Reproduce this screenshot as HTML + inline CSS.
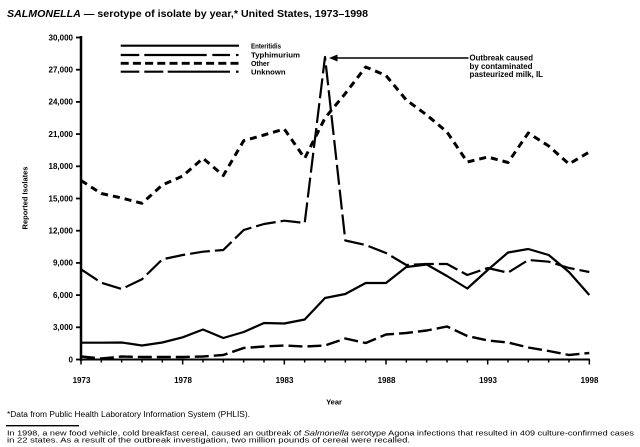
<!DOCTYPE html>
<html><head><meta charset="utf-8"><style>
html,body{margin:0;padding:0;background:#fff;}
svg{display:block;}
text{font-family:"Liberation Sans",Arial,sans-serif;fill:#000;}
</style></head><body>
<svg width="640" height="447" viewBox="0 0 640 447" xmlns="http://www.w3.org/2000/svg">
<!-- Title -->
<text x="7" y="17" font-size="10.5" font-weight="bold" textLength="361" lengthAdjust="spacingAndGlyphs"><tspan font-style="italic">SALMONELLA</tspan> — serotype of isolate by year,* United States, 1973–1998</text>

<!-- Y axis -->
<line x1="81" y1="36" x2="81" y2="361" stroke="#000" stroke-width="2.5"/>
<g stroke="#000" stroke-width="1.8">
<line x1="76" y1="359.5" x2="81" y2="359.5"/>
<line x1="76" y1="327.3" x2="81" y2="327.3"/>
<line x1="76" y1="295.1" x2="81" y2="295.1"/>
<line x1="76" y1="262.9" x2="81" y2="262.9"/>
<line x1="76" y1="230.7" x2="81" y2="230.7"/>
<line x1="76" y1="198.5" x2="81" y2="198.5"/>
<line x1="76" y1="166.3" x2="81" y2="166.3"/>
<line x1="76" y1="134.1" x2="81" y2="134.1"/>
<line x1="76" y1="101.9" x2="81" y2="101.9"/>
<line x1="76" y1="69.7" x2="81" y2="69.7"/>
<line x1="76" y1="37.5" x2="81" y2="37.5"/>
</g>
<g font-size="8" font-weight="bold" text-anchor="end">
<text x="73" y="362.3">0</text>
<text x="73" y="330.1">3,000</text>
<text x="73" y="297.9">6,000</text>
<text x="73" y="265.7">9,000</text>
<text x="73" y="233.5">12,000</text>
<text x="73" y="201.3">15,000</text>
<text x="73" y="169.1">18,000</text>
<text x="73" y="136.9">21,000</text>
<text x="73" y="104.7">24,000</text>
<text x="73" y="72.5">27,000</text>
<text x="73" y="40.3">30,000</text>
</g>
<text transform="translate(27.5,198) rotate(-90)" font-size="7.5" font-weight="bold" text-anchor="middle">Reported Isolates</text>

<!-- X axis -->
<line x1="80" y1="359.5" x2="590" y2="359.5" stroke="#000" stroke-width="2"/>
<g stroke="#000" stroke-width="1.5">
<line x1="81" y1="359.5" x2="81" y2="364.5"/>
<line x1="101.33" y1="359.5" x2="101.33" y2="362.5"/>
<line x1="121.66" y1="359.5" x2="121.66" y2="362.5"/>
<line x1="142" y1="359.5" x2="142" y2="362.5"/>
<line x1="162.33" y1="359.5" x2="162.33" y2="362.5"/>
<line x1="182.66" y1="359.5" x2="182.66" y2="364.5"/>
<line x1="203" y1="359.5" x2="203" y2="362.5"/>
<line x1="223.33" y1="359.5" x2="223.33" y2="362.5"/>
<line x1="243.66" y1="359.5" x2="243.66" y2="362.5"/>
<line x1="264" y1="359.5" x2="264" y2="362.5"/>
<line x1="284.33" y1="359.5" x2="284.33" y2="364.5"/>
<line x1="304.66" y1="359.5" x2="304.66" y2="362.5"/>
<line x1="325" y1="359.5" x2="325" y2="362.5"/>
<line x1="345.33" y1="359.5" x2="345.33" y2="362.5"/>
<line x1="365.66" y1="359.5" x2="365.66" y2="362.5"/>
<line x1="386" y1="359.5" x2="386" y2="364.5"/>
<line x1="406.33" y1="359.5" x2="406.33" y2="362.5"/>
<line x1="426.66" y1="359.5" x2="426.66" y2="362.5"/>
<line x1="447" y1="359.5" x2="447" y2="362.5"/>
<line x1="467.33" y1="359.5" x2="467.33" y2="362.5"/>
<line x1="487.66" y1="359.5" x2="487.66" y2="364.5"/>
<line x1="508" y1="359.5" x2="508" y2="362.5"/>
<line x1="528.33" y1="359.5" x2="528.33" y2="362.5"/>
<line x1="548.66" y1="359.5" x2="548.66" y2="362.5"/>
<line x1="569" y1="359.5" x2="569" y2="362.5"/>
<line x1="589.33" y1="359.5" x2="589.33" y2="364.5"/>
</g>
<g font-size="8" font-weight="bold" text-anchor="middle">
<text x="81.5" y="383">1973</text>
<text x="183" y="383">1978</text>
<text x="284.5" y="383">1983</text>
<text x="386.5" y="383">1988</text>
<text x="488" y="383">1993</text>
<text x="589.5" y="383">1998</text>
</g>
<text x="334" y="404.5" font-size="7.5" font-weight="bold" text-anchor="middle">Year</text>

<!-- Series -->
<g fill="none" stroke="#000" stroke-linejoin="round">
<!-- Other -->
<polyline stroke-width="3" stroke-dasharray="7,5" points="81,180.5 101.3,193.5 121.7,198 142,203.3 162.3,185 182.7,176 203,158.3 223.3,175.5 243.7,140.7 264,135 284.3,129 304.7,158.3 325,118 345.3,93.5 365.7,67 386,75.5 406.3,100 426.7,115 447,132 467.3,162 487.7,157 508,162.5 528.3,133 548.7,146 569,164 589.3,152"/>
<!-- Enteritidis -->
<polyline stroke-width="2.2" points="81,342.7 101.3,342.7 121.7,342.5 142,345.5 162.3,342.5 182.7,337.3 203,329.5 223.3,338 243.7,332 264,323 284.3,323.5 304.7,319.5 325,298 345.3,294 365.7,283 386,283 406.3,267 426.7,264.5 447,276 467.3,288.5 487.7,270 508,252.5 528.3,249 548.7,255 569,272 589.3,295"/>
<!-- Typhimurium -->
<polyline stroke-width="2.2" stroke-dasharray="20,5" points="81,269.3 101.3,282.7 121.7,289 142,279.3 162.3,259.3 182.7,255 203,251.7 223.3,250 243.7,230 264,224 284.3,220.7 304.7,223 325,57 345.3,240.5 365.7,245 386,253 406.3,265 426.7,264 447,264 467.3,275 487.7,268 508,272.7 528.3,260 548.7,261.7 569,268 589.3,272"/>
<!-- Unknown -->
<polyline stroke-width="2.4" stroke-dasharray="14,5" points="81,356.5 101.3,358.5 121.7,356.5 142,357 162.3,357 182.7,357 203,356.5 223.3,355 243.7,348 264,346.5 284.3,345.5 304.7,346.5 325,345.5 345.3,338.5 365.7,343 386,334.5 406.3,333 426.7,330.5 447,326.5 467.3,336 487.7,340.5 508,342.5 528.3,347.5 548.7,351 569,355 589.3,353"/>
</g>

<!-- Legend -->
<g stroke="#000" stroke-width="2.2" fill="none">
<line x1="120.7" y1="45.7" x2="239" y2="45.7"/>
<line x1="120.7" y1="55" x2="139.3" y2="55"/>
<line x1="144.3" y1="55" x2="206.7" y2="55"/>
<line x1="212.3" y1="55" x2="230" y2="55"/>
<line x1="236" y1="55" x2="238.5" y2="55"/>
<line x1="120.7" y1="63.3" x2="239" y2="63.3" stroke-width="2.8" stroke-dasharray="8,4.2"/>
<line x1="120.7" y1="71.7" x2="139.3" y2="71.7"/>
<line x1="144.3" y1="71.7" x2="163.3" y2="71.7"/>
<line x1="167.7" y1="71.7" x2="230" y2="71.7"/>
<line x1="236" y1="71.7" x2="238.5" y2="71.7"/>
</g>
<g font-size="7.5" font-weight="bold">
<text x="251" y="48.5" textLength="30" lengthAdjust="spacingAndGlyphs">Enteritidis</text>
<text x="251" y="57.3" textLength="49" lengthAdjust="spacingAndGlyphs">Typhimurium</text>
<text x="251" y="66" textLength="18.5" lengthAdjust="spacingAndGlyphs">Other</text>
<text x="251" y="74.5" textLength="34.5" lengthAdjust="spacingAndGlyphs">Unknown</text>
</g>

<!-- Annotation -->
<line x1="335" y1="58" x2="468.5" y2="58" stroke="#000" stroke-width="1.6"/>
<polygon points="329,58 337.5,54.5 337.5,61.5" fill="#000"/>
<g font-size="8" font-weight="bold">
<text x="469.5" y="60.5" textLength="63.5" lengthAdjust="spacingAndGlyphs">Outbreak caused</text>
<text x="469.5" y="68.8" textLength="63" lengthAdjust="spacingAndGlyphs">by contaminated</text>
<text x="469.5" y="77.2" textLength="73.5" lengthAdjust="spacingAndGlyphs">pasteurized milk, IL</text>
</g>

<!-- Footnotes -->
<text x="7" y="417" font-size="8" textLength="243" lengthAdjust="spacingAndGlyphs">*Data from Public Health Laboratory Information System (PHLIS).</text>
<line x1="6" y1="425.7" x2="79" y2="425.7" stroke="#000" stroke-width="1.4"/>
<text x="7" y="435.5" font-size="7.2" textLength="627" lengthAdjust="spacingAndGlyphs">In 1998, a new food vehicle, cold breakfast cereal, caused an outbreak of <tspan font-style="italic">Salmonella</tspan>  serotype Agona infections that resulted in 409 culture-confirmed cases</text>
<text x="7" y="442.7" font-size="7.2" textLength="403" lengthAdjust="spacingAndGlyphs">in 22 states. As a result of the outbreak investigation, two million pounds of cereal were recalled.</text>
</svg>
</body></html>
